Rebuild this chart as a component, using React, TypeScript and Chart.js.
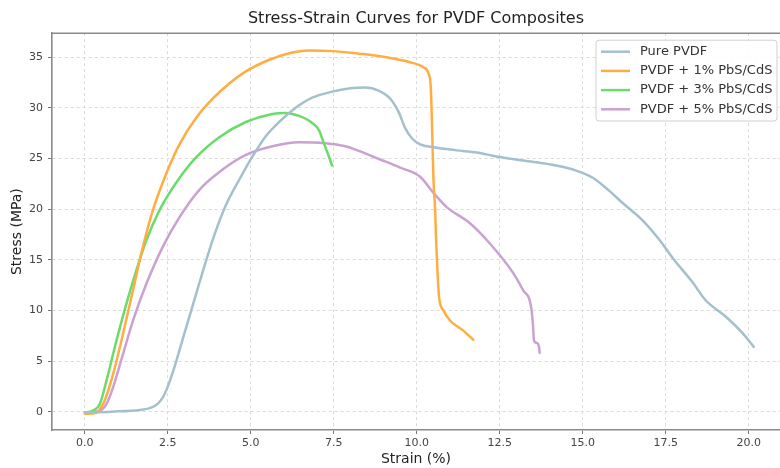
import React, { useEffect, useRef } from "react";
import { Chart, registerables } from "chart.js";

Chart.register(...registerables);

// ---- Data ----
const seriesLabels = ["Pure PVDF", "PVDF + 1% PbS/CdS", "PVDF + 3% PbS/CdS", "PVDF + 5% PbS/CdS"];
const seriesColors = ["#a4c0cc", "#ffad42", "#6bdb6b", "#c9a2d2"];

const strainPure = [0, 0.8, 1.65, 2.0, 2.2, 2.35, 2.5, 2.65, 2.8, 3.05, 3.35, 3.65, 3.95, 4.25, 4.65, 5.05, 5.45, 5.85, 6.35, 6.85, 7.45, 8.05, 8.45, 8.85, 9.2, 9.45, 9.65, 9.85, 10.1, 10.5, 11.2, 11.8, 12.4, 13.2, 14.2, 14.8, 15.3, 15.8, 16.2, 16.8, 17.3, 17.7, 18.3, 18.7, 19.3, 19.8, 20.15];
const stressPure = [-0.1, 0.0, 0.17, 0.4, 0.8, 1.4, 2.5, 3.9, 5.5, 8.3, 11.6, 14.9, 17.9, 20.4, 22.9, 25.2, 27.2, 28.6, 30.0, 31.0, 31.6, 31.95, 32.0, 31.7, 30.9, 29.6, 28.0, 27.0, 26.4, 26.1, 25.8, 25.6, 25.2, 24.8, 24.3, 23.8, 23.1, 21.8, 20.6, 18.9, 17.0, 15.2, 12.8, 11.0, 9.4, 7.8, 6.4];

const strain1 = [0, 0.35, 0.45, 0.6, 0.85, 1.15, 1.45, 1.75, 2.05, 2.45, 2.85, 3.35, 3.85, 4.35, 4.85, 5.45, 6.05, 6.75, 7.45, 8.25, 8.9, 9.4, 9.8, 10.2, 10.35, 10.42, 10.46, 10.5, 10.55, 10.58, 10.62, 10.67, 10.8, 11.0, 11.4, 11.7];
const stress1 = [-0.2, -0.1, 0.25, 1.1, 3.7, 7.7, 12.0, 16.3, 19.9, 23.5, 26.4, 29.0, 30.9, 32.4, 33.6, 34.6, 35.3, 35.65, 35.6, 35.35, 35.1, 34.8, 34.5, 34.0, 33.4, 32.0, 28.0, 23.0, 20.0, 17.0, 14.0, 11.3, 10.0, 9.0, 8.0, 7.1];

const strain3 = [0, 0.25, 0.45, 0.65, 0.95, 1.25, 1.55, 1.85, 2.25, 2.75, 3.35, 4.05, 4.85, 5.65, 6.05, 6.45, 6.85, 7.05, 7.2, 7.35, 7.45];
const stress3 = [-0.1, 0.1, 0.75, 3.05, 7.0, 10.65, 13.95, 16.9, 19.9, 22.6, 25.1, 27.1, 28.6, 29.4, 29.5, 29.2, 28.5, 27.8, 26.5, 25.2, 24.3];

const strain5 = [0, 0.45, 0.65, 0.85, 1.15, 1.45, 1.85, 2.35, 2.85, 3.45, 4.15, 4.85, 5.65, 6.45, 7.25, 7.85, 8.25, 8.9, 9.5, 10.1, 10.5, 10.9, 11.6, 12.2, 12.9, 13.2, 13.45, 13.5, 13.53, 13.6, 13.68, 13.7];
const stress5 = [-0.1, 0.1, 0.75, 2.4, 5.7, 9.0, 12.6, 16.3, 19.2, 21.9, 23.9, 25.35, 26.2, 26.6, 26.5, 26.2, 25.75, 24.9, 24.1, 23.2, 21.6, 20.2, 18.6, 16.6, 13.7, 12.0, 10.2, 8.5, 7.0, 6.8, 6.4, 5.8];

const xTickValues = [0, 2.5, 5, 7.5, 10, 12.5, 15, 17.5, 20];
const yTickValues = [0, 5, 10, 15, 20, 25, 30, 35];

const strainSets = [strainPure, strain1, strain3, strain5];
const stressSets = [stressPure, stress1, stress3, stress5];

const FONT = '"DejaVu Sans", sans-serif';
const AXIS_COLOR = "#8a8a8a";

const framePlugin = {
  id: "frameTop",
  afterDraw(chart: any) {
    const { ctx, chartArea } = chart;
    ctx.save();
    ctx.strokeStyle = AXIS_COLOR;
    ctx.lineWidth = 1.6;
    ctx.beginPath();
    ctx.moveTo(chartArea.left, chartArea.top);
    ctx.lineTo(chartArea.right, chartArea.top);
    ctx.stroke();
    ctx.restore();
  },
};

const legendPlugin = {
  id: "boxLegend",
  afterDraw(chart: any) {
    const { ctx, chartArea } = chart;
    const ds = chart.data.datasets;
    const right = chartArea.right - 3;
    const top = chartArea.top + 7;
    const left = right - 181;
    const rowH = 19.2;
    const h = rowH * ds.length + 4;
    ctx.save();
    ctx.beginPath();
    const r = 3;
    ctx.moveTo(left + r, top);
    ctx.lineTo(right - r, top);
    ctx.quadraticCurveTo(right, top, right, top + r);
    ctx.lineTo(right, top + h - r);
    ctx.quadraticCurveTo(right, top + h, right - r, top + h);
    ctx.lineTo(left + r, top + h);
    ctx.quadraticCurveTo(left, top + h, left, top + h - r);
    ctx.lineTo(left, top + r);
    ctx.quadraticCurveTo(left, top, left + r, top);
    ctx.closePath();
    ctx.fillStyle = "rgba(255,255,255,0.85)";
    ctx.fill();
    ctx.strokeStyle = "#d0d0d0";
    ctx.lineWidth = 1;
    ctx.stroke();
    ctx.font = `13px ${FONT}`;
    ctx.textBaseline = "middle";
    ctx.textAlign = "left";
    ds.forEach((d: any, i: number) => {
      const y = top + 11.5 + i * rowH;
      ctx.strokeStyle = d.borderColor;
      ctx.lineWidth = 2.5;
      ctx.beginPath();
      ctx.moveTo(left + 5, y);
      ctx.lineTo(left + 34, y);
      ctx.stroke();
      ctx.fillStyle = "#333";
      ctx.fillText(d.label, left + 44, y);
    });
    ctx.restore();
  },
};

export default function App() {
  const ref = useRef<HTMLCanvasElement | null>(null);
  useEffect(() => {
    if (!ref.current) return;
    const datasets = seriesLabels.map((label, i) => ({
      label,
      data: strainSets[i].map((x, j) => ({ x, y: stressSets[i][j] })),
      borderColor: seriesColors[i],
      backgroundColor: seriesColors[i],
      borderWidth: 2.5,
      pointRadius: 0,
      fill: false,
      cubicInterpolationMode: "monotone" as const,
      borderJoinStyle: "round" as const,
      borderCapStyle: "round" as const,
    }));
    const chart = new Chart(ref.current, {
      type: "line",
      data: { datasets },
      options: {
        animation: false,
        responsive: false,
        layout: { padding: 0 },
        plugins: {
          legend: { display: false },
          tooltip: { enabled: false },
          title: {
            display: true,
            text: "Stress-Strain Curves for PVDF Composites",
            fullSize: false,
            color: "#222",
            font: { family: FONT, size: 16, weight: "normal" },
            padding: { top: 9, bottom: 5 },
          },
        },
        scales: {
          x: {
            type: "linear",
            min: -0.99,
            max: 20.94,
            afterBuildTicks: (scale: any) => {
              scale.ticks = xTickValues.map((v) => ({ value: v }));
            },
            afterFit: (scale: any) => {
              scale.height = 38;
            },
            ticks: {
              color: "#444",
              font: { family: FONT, size: 11 },
              padding: 3,
              maxRotation: 0,
              autoSkip: false,
              callback: (v: any) => Number(v).toFixed(1),
            },
            grid: {
              color: "#d6d6d6",
              lineWidth: 0.9,
              drawTicks: true,
              tickLength: 4,
              tickColor: "#777",
              tickWidth: 1,
              tickBorderDash: [],
            },
            border: { display: true, color: AXIS_COLOR, width: 1.6, dash: [3, 3] },
            title: {
              display: true,
              text: "Strain (%)",
              color: "#222",
              font: { family: FONT, size: 14 },
              padding: { top: 0, bottom: 0 },
            },
          },
          y: {
            type: "linear",
            min: -1.81,
            max: 37.37,
            afterBuildTicks: (scale: any) => {
              scale.ticks = yTickValues.map((v) => ({ value: v }));
            },
            afterFit: (scale: any) => {
              scale.width = 52;
            },
            ticks: {
              color: "#444",
              font: { family: FONT, size: 11 },
              padding: 5,
              autoSkip: false,
              callback: (v: any) => String(v),
            },
            grid: {
              color: "#d6d6d6",
              lineWidth: 0.9,
              drawTicks: true,
              tickLength: 4,
              tickColor: "#777",
              tickWidth: 1,
              tickBorderDash: [],
            },
            border: { display: true, color: AXIS_COLOR, width: 1.6, dash: [3, 3] },
            title: {
              display: true,
              text: "Stress (MPa)",
              color: "#222",
              font: { family: FONT, size: 14 },
              padding: { top: 9, bottom: 0 },
            },
          },
        },
      } as any,
      plugins: [framePlugin, legendPlugin],
    });
    return () => chart.destroy();
  }, []);
  return (
    <div style={{ position: "absolute", left: 0, top: 0, width: 780, height: 468, background: "#fff" }}>
      <canvas ref={ref} width={780} height={468} style={{ display: "block" }} />
    </div>
  );
}
